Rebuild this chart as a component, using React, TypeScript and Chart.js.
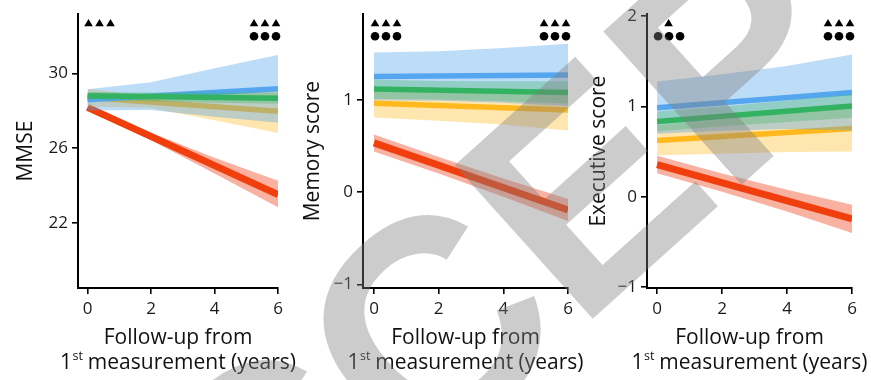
import React, { useEffect, useRef } from "react";
import { Chart, registerables } from "chart.js";
Chart.register(...registerables);

// ---------- data ----------
const LINE_X = [0, 6];
const BAND_X = [0, 2, 4, 6];
const X_TICKS = [0, 2, 4, 6];

// MMSE
const MMSE_TICKS = [22, 26, 30];
const MMSE_BLUE = [28.58, 29.17];
const MMSE_BLUE_HI = [29.15, 29.52, 30.27, 30.98];
const MMSE_BLUE_LO = [28.01, 28.04, 27.67, 27.36];
const MMSE_GREEN = [28.8, 28.67];
const MMSE_GREEN_HI = [29.0, 28.98, 28.97, 28.97];
const MMSE_GREEN_LO = [28.6, 28.5, 28.42, 28.37];
const MMSE_YELLOW = [28.7, 27.97];
const MMSE_YELLOW_HI = [29.17, 28.78, 28.93, 29.13];
const MMSE_YELLOW_LO = [28.23, 28.14, 27.49, 26.81];
const MMSE_RED = [28.18, 23.5];
const MMSE_RED_HI = [28.3, 26.82, 25.48, 24.25];
const MMSE_RED_LO = [28.06, 26.42, 24.64, 22.83];
const MMSE_MARKS_START = [3, 0]; // triangles, circles
const MMSE_MARKS_END = [3, 3];

// Memory
const MEM_TICKS = [-1, 0, 1];
const MEM_BLUE = [1.254, 1.27];
const MEM_BLUE_HI = [1.512, 1.527, 1.562, 1.608];
const MEM_BLUE_LO = [0.996, 0.991, 0.968, 0.932];
const MEM_GREEN = [1.116, 1.08];
const MEM_GREEN_HI = [1.221, 1.204, 1.2, 1.2];
const MEM_GREEN_LO = [1.011, 1.004, 0.984, 0.96];
const MEM_YELLOW = [0.963, 0.89];
const MEM_YELLOW_HI = [1.117, 1.104, 1.097, 1.113];
const MEM_YELLOW_LO = [0.809, 0.774, 0.731, 0.667];
const MEM_RED = [0.533, -0.195];
const MEM_RED_HI = [0.625, 0.38, 0.148, -0.075];
const MEM_RED_LO = [0.44, 0.2, -0.052, -0.315];
const MEM_MARKS_START = [3, 3];
const MEM_MARKS_END = [3, 3];

// Executive
const EXE_TICKS = [-1, 0, 1, 2];
const EXE_BLUE = [0.986, 1.154];
const EXE_BLUE_HI = [1.274, 1.355, 1.447, 1.574];
const EXE_BLUE_LO = [0.698, 0.729, 0.749, 0.734];
const EXE_GREEN = [0.832, 1.003];
const EXE_GREEN_HI = [0.942, 0.999, 1.066, 1.133];
const EXE_GREEN_LO = [0.722, 0.779, 0.826, 0.873];
const EXE_YELLOW = [0.623, 0.755];
const EXE_YELLOW_HI = [0.787, 0.858, 0.927, 1.01];
const EXE_YELLOW_LO = [0.459, 0.476, 0.495, 0.5];
const EXE_RED = [0.356, -0.244];
const EXE_RED_HI = [0.453, 0.256, 0.076, -0.09];
const EXE_RED_LO = [0.259, 0.056, -0.164, -0.4];
const EXE_MARKS_START = [1, 3];
const EXE_MARKS_END = [3, 3];

const X_TITLE_1 = "Follow-up from";
const X_TITLE_2A = "1";
const X_TITLE_2SUP = "st";
const X_TITLE_2B = " measurement (years)";
const WATERMARK = "ACCEPTED";

// ---------- style ----------
const COLORS = {
  blue: { line: "#5aacef", band: "rgba(75,160,235,0.37)" },
  green: { line: "#2fb463", band: "rgba(60,180,95,0.33)" },
  yellow: { line: "#ffb81c", band: "rgba(255,187,34,0.37)" },
  red: { line: "#f03c00", band: "rgba(240,70,30,0.42)" },
};
// drawing sequence: first item drawn first (bottom)
const DRAW_SEQ: (keyof typeof COLORS)[] = ["red", "yellow", "blue", "green"];
const FONT = '"Open Sans", "Noto Sans", sans-serif';
const TITLE_PX = 21;
const H = 380;
const CANVAS_W = 310;
const LEFT_MARGIN = 85; // canvas-local x of the y axis

type Group = { key: keyof typeof COLORS; line: number[]; hi: number[]; lo: number[]; w: number };
type PanelCfg = {
  plotLeft: number; // page coords
  plotRight: number;
  xMin: number;
  yMin: number;
  yMax: number;
  yTicks: number[];
  yTitle: string;
  yTitleX: number; // page coords (baseline of rotated title)
  groups: Group[];
  marksStart: number[];
  marksEnd: number[];
};

const PANELS: PanelCfg[] = [
  {
    plotLeft: 78, plotRight: 278, xMin: -0.3,
    yMin: 18.5, yMax: 33.17, yTicks: MMSE_TICKS, yTitle: "MMSE", yTitleX: 31.5,
    groups: [
      { key: "blue", line: MMSE_BLUE, hi: MMSE_BLUE_HI, lo: MMSE_BLUE_LO, w: 5.5 },
      { key: "green", line: MMSE_GREEN, hi: MMSE_GREEN_HI, lo: MMSE_GREEN_LO, w: 5.5 },
      { key: "yellow", line: MMSE_YELLOW, hi: MMSE_YELLOW_HI, lo: MMSE_YELLOW_LO, w: 5.5 },
      { key: "red", line: MMSE_RED, hi: MMSE_RED_HI, lo: MMSE_RED_LO, w: 7 },
    ],
    marksStart: MMSE_MARKS_START, marksEnd: MMSE_MARKS_END,
  },
  {
    plotLeft: 363, plotRight: 568, xMin: -0.34,
    yMin: -1.04, yMax: 1.928, yTicks: MEM_TICKS, yTitle: "Memory score", yTitleX: 318.5,
    groups: [
      { key: "blue", line: MEM_BLUE, hi: MEM_BLUE_HI, lo: MEM_BLUE_LO, w: 5.5 },
      { key: "green", line: MEM_GREEN, hi: MEM_GREEN_HI, lo: MEM_GREEN_LO, w: 5.5 },
      { key: "yellow", line: MEM_YELLOW, hi: MEM_YELLOW_HI, lo: MEM_YELLOW_LO, w: 5.5 },
      { key: "red", line: MEM_RED, hi: MEM_RED_HI, lo: MEM_RED_LO, w: 7 },
    ],
    marksStart: MEM_MARKS_START, marksEnd: MEM_MARKS_END,
  },
  {
    plotLeft: 647, plotRight: 852, xMin: -0.31,
    yMin: -1.01, yMax: 2.02, yTicks: EXE_TICKS, yTitle: "Executive score", yTitleX: 605,
    groups: [
      { key: "blue", line: EXE_BLUE, hi: EXE_BLUE_HI, lo: EXE_BLUE_LO, w: 5.5 },
      { key: "green", line: EXE_GREEN, hi: EXE_GREEN_HI, lo: EXE_GREEN_LO, w: 5.5 },
      { key: "yellow", line: EXE_YELLOW, hi: EXE_YELLOW_HI, lo: EXE_YELLOW_LO, w: 5.5 },
      { key: "red", line: EXE_RED, hi: EXE_RED_HI, lo: EXE_RED_LO, w: 7 },
    ],
    marksStart: EXE_MARKS_START, marksEnd: EXE_MARKS_END,
  },
];

function fmt(v: number) {
  return v < 0 ? "\u2212" + Math.abs(v) : String(v);
}

function buildDatasets(p: PanelCfg) {
  const ds: any[] = [];
  const n = DRAW_SEQ.length;
  for (const g of p.groups) {
    const rank = DRAW_SEQ.indexOf(g.key); // 0 = drawn first
    const lineOrder = (n - rank) * 2; // higher order drawn earlier
    const bandOrder = lineOrder - 1;
    ds.push({
      data: LINE_X.map((x, i) => ({ x, y: g.line[i] })),
      borderColor: COLORS[g.key].line,
      borderWidth: g.w,
      borderCapStyle: "butt",
      pointRadius: 0,
      fill: false,
      order: lineOrder,
    });
    ds.push({
      data: BAND_X.map((x, i) => ({ x, y: g.hi[i] })),
      borderWidth: 0,
      borderColor: "rgba(0,0,0,0)",
      pointRadius: 0,
      fill: "+1",
      backgroundColor: COLORS[g.key].band,
      order: bandOrder,
    });
    ds.push({
      data: BAND_X.map((x, i) => ({ x, y: g.lo[i] })),
      borderWidth: 0,
      borderColor: "rgba(0,0,0,0)",
      pointRadius: 0,
      fill: false,
      order: bandOrder,
    });
  }
  return ds;
}

function Panel({ cfg }: { cfg: PanelCfg }) {
  const ref = useRef<HTMLCanvasElement>(null);
  const canvasLeft = cfg.plotLeft - LEFT_MARGIN;
  useEffect(() => {
    const canvas = ref.current!;
    const decor = {
      id: "decor",
      afterDraw(chart: any) {
        const ctx = chart.ctx as CanvasRenderingContext2D;
        const area = chart.chartArea;
        const xs = chart.scales.x;
        ctx.save();
        ctx.fillStyle = "#111";
        // y title
        ctx.save();
        ctx.translate(cfg.yTitleX - canvasLeft, (area.top + area.bottom) / 2);
        ctx.rotate(-Math.PI / 2);
        ctx.font = `${TITLE_PX}px ${FONT}`;
        ctx.textAlign = "center";
        ctx.textBaseline = "alphabetic";
        ctx.fillText(cfg.yTitle, 0, 0);
        ctx.restore();
        // x title
        const cx = (area.left + area.right) / 2;
        ctx.font = `${TITLE_PX}px ${FONT}`;
        ctx.textAlign = "center";
        ctx.textBaseline = "alphabetic";
        ctx.fillText(X_TITLE_1, cx, 343.5);
        ctx.textAlign = "left";
        const wA = ctx.measureText(X_TITLE_2A).width;
        const wB = ctx.measureText(X_TITLE_2B).width;
        ctx.font = `12.5px ${FONT}`;
        const wS = ctx.measureText(X_TITLE_2SUP).width;
        const start = cx - (wA + wS + wB) / 2;
        ctx.font = `${TITLE_PX}px ${FONT}`;
        ctx.fillText(X_TITLE_2A, start, 368.5);
        ctx.fillText(X_TITLE_2B, start + wA + wS, 368.5);
        ctx.font = `12.5px ${FONT}`;
        ctx.fillText(X_TITLE_2SUP, start + wA + 0.5, 360);
        // significance markers
        ctx.fillStyle = "#000";
        const triY = area.top + 8.7;
        const dotY = area.top + 22;
        const x0 = xs.getPixelForValue(0);
        const x6 = xs.getPixelForValue(6);
        const drawRow = (centers: number[], kind: "tri" | "dot", y: number) => {
          for (const c of centers) {
            ctx.beginPath();
            if (kind === "tri") {
              ctx.moveTo(c, y - 4);
              ctx.lineTo(c + 4.3, y + 3.4);
              ctx.lineTo(c - 4.3, y + 3.4);
              ctx.closePath();
            } else {
              ctx.arc(c, y, 4.3, 0, Math.PI * 2);
            }
            ctx.fill();
          }
        };
        const startCenters = (n: number) =>
          n === 1 ? [x0 + 11.5] : n === 3 ? [x0 + 1, x0 + 12, x0 + 23] : [];
        const endCenters = (n: number) =>
          n === 1 ? [x6 - 13] : n === 3 ? [x6 - 24, x6 - 13, x6 - 2] : [];
        drawRow(startCenters(cfg.marksStart[0]), "tri", triY);
        drawRow(startCenters(cfg.marksStart[1]), "dot", dotY);
        drawRow(endCenters(cfg.marksEnd[0]), "tri", triY);
        drawRow(endCenters(cfg.marksEnd[1]), "dot", dotY);
        ctx.restore();
      },
    };
    const chart = new Chart(canvas, {
      type: "line",
      data: { datasets: buildDatasets(cfg) },
      options: {
        animation: false,
        responsive: false,
        maintainAspectRatio: false,
        layout: {
          padding: { left: 0, right: CANVAS_W - (cfg.plotRight - canvasLeft), top: 12, bottom: 0 },
        },
        plugins: { legend: { display: false }, tooltip: { enabled: false } },
        elements: { line: { tension: 0 } },
        scales: {
          x: {
            type: "linear",
            min: cfg.xMin,
            max: 6,
            afterBuildTicks: (s: any) => {
              s.ticks = X_TICKS.map((v) => ({ value: v }));
            },
            afterFit: (s: any) => {
              s.height = H - 288;
            },
            grid: { drawOnChartArea: false, drawTicks: true, tickLength: 6, color: "#000", lineWidth: 1.6 },
            border: { display: true, color: "#000", width: 2 },
            ticks: {
              font: { size: 17, family: FONT },
              color: "#1a1a1a",
              padding: 5,
              maxRotation: 0,
              autoSkip: false,
              callback: (v: any) => fmt(Number(v)),
            },
          },
          y: {
            type: "linear",
            min: cfg.yMin,
            max: cfg.yMax,
            afterBuildTicks: (s: any) => {
              s.ticks = cfg.yTicks.map((v) => ({ value: v }));
            },
            afterFit: (s: any) => {
              s.width = LEFT_MARGIN;
            },
            grid: { drawOnChartArea: false, drawTicks: true, tickLength: 6, color: "#000", lineWidth: 1.6 },
            border: { display: true, color: "#000", width: 2 },
            ticks: {
              font: { size: 17, family: FONT },
              color: "#1a1a1a",
              padding: 4,
              autoSkip: false,
              callback: (v: any) => fmt(Number(v)),
            },
          },
        },
      },
      plugins: [decor],
    } as any);
    return () => chart.destroy();
  }, [cfg]);
  return (
    <canvas
      ref={ref}
      width={CANVAS_W}
      height={H}
      style={{ position: "absolute", left: canvasLeft, top: 0, width: CANVAS_W, height: H }}
    />
  );
}

function Watermark() {
  const ref = useRef<HTMLCanvasElement>(null);
  useEffect(() => {
    const c = ref.current!;
    const ctx = c.getContext("2d")!;
    ctx.clearRect(0, 0, c.width, c.height);
    ctx.save();
    ctx.translate(708, 215);
    ctx.rotate((-42 * Math.PI) / 180);
    ctx.font = 'bold 300px "Liberation Sans", Arial, sans-serif';
    ctx.textAlign = "center";
    ctx.textBaseline = "alphabetic";
    ctx.fillStyle = "rgba(128,128,128,0.4)";
    ctx.fillText(WATERMARK, 0, 0);
    ctx.restore();
  }, []);
  return (
    <canvas
      ref={ref}
      width={871}
      height={H}
      style={{ position: "absolute", left: 0, top: 0, width: 871, height: H, pointerEvents: "none" }}
    />
  );
}

export default function App() {
  Chart.defaults.font.family = FONT;
  return (
    <div style={{ position: "fixed", left: 0, top: 0, width: 871, height: H, background: "#fff", overflow: "hidden" }}>
      {PANELS.map((p, i) => (
        <Panel key={i} cfg={p} />
      ))}
      <Watermark />
    </div>
  );
}
